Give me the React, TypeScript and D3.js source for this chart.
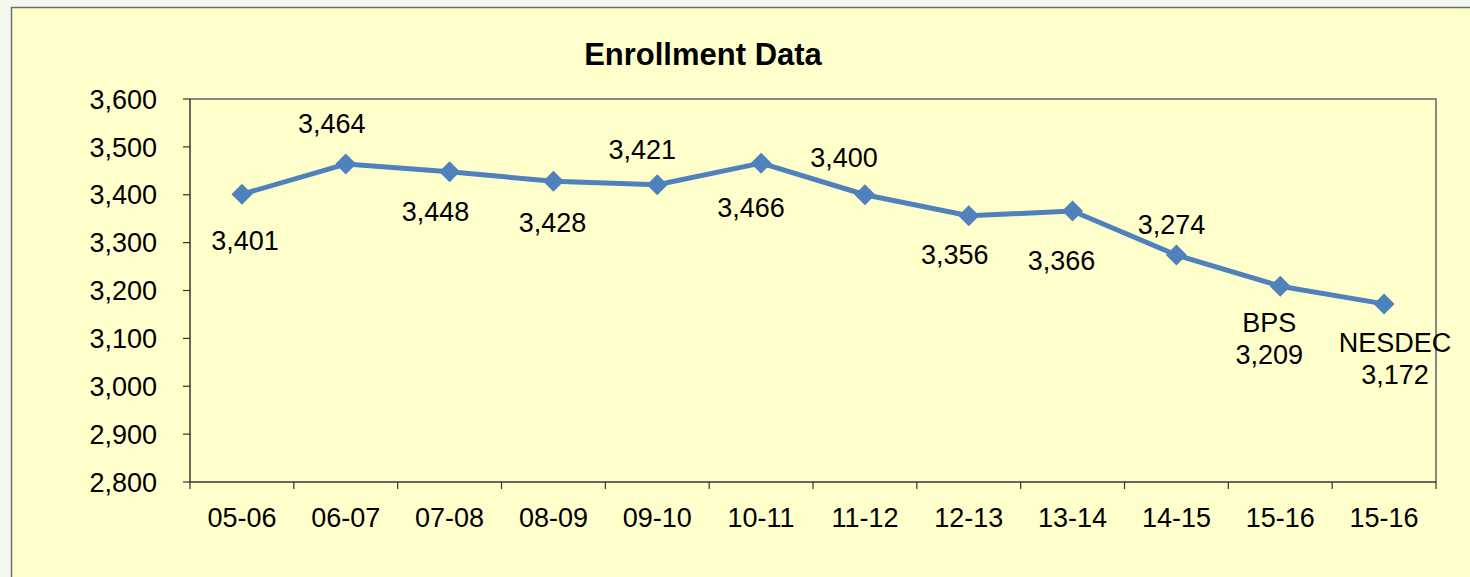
import * as d3 from "d3";

const categories = ["05-06", "06-07", "07-08", "08-09", "09-10", "10-11", "11-12", "12-13", "13-14", "14-15", "15-16", "15-16"];
const enrollment = [3401, 3464, 3448, 3428, 3421, 3466, 3400, 3356, 3366, 3274, 3209, 3172];
const prefixes = ["", "", "", "", "", "", "", "", "", "", "BPS", "NESDEC"];
const yTicks = [2800, 2900, 3000, 3100, 3200, 3300, 3400, 3500, 3600];

// label placement (offset from marker to baseline, px)
const labelDx = [3, -14, -14, -1, -15, -10, -21, -14, -11, -5, -11, 11];
const labelDy = [56, -31, 49, 51, -26, 54, -28, 48, 59, -21, 78, 80];

const W = 1470;
const H = 577;
const m = { left: 190, right: 1436, top: 99, bottom: 482 };
const font = "'Liberation Sans', Arial, sans-serif";

export default function App() {
  const x = d3.scaleBand<number>().domain(d3.range(categories.length)).range([m.left, m.right]);
  const y = d3.scaleLinear().domain([2800, 3600]).range([m.bottom, m.top]);
  const cx = (i: number) => (x(i) ?? 0) + x.bandwidth() / 2;
  const line = d3
    .line<number>()
    .x((_, i) => cx(i))
    .y((d) => y(d));
  const fmt = d3.format(",");

  return (
    <div style={{ position: "fixed", left: 0, top: 0 }}>
      <svg width={W} height={H} style={{ display: "block", fontFamily: font }}>
        <rect x={0} y={0} width={W} height={H} fill="#F2F7F0" />
        <rect x={11.5} y={7.5} width={W + 10} height={H + 10} fill="#FFFFCC" stroke="#6E6E6E" strokeWidth={1.5} />
        <text x={703} y={65} textAnchor="middle" fontSize={31} fontWeight="bold">
          Enrollment Data
        </text>
        {/* plot frame */}
        <polyline
          points={`${m.left},${m.top} ${m.right},${m.top} ${m.right},${m.bottom}`}
          fill="none"
          stroke="#888"
          strokeWidth={2}
        />
        {/* y axis */}
        <line x1={m.left} x2={m.left} y1={m.top} y2={m.bottom} stroke="#333" strokeWidth={1.5} />
        {yTicks.map((t) => (
          <g key={t}>
            <line x1={m.left - 7} x2={m.left} y1={y(t)} y2={y(t)} stroke="#333" strokeWidth={1.2} />
            <text x={157} y={y(t)} dy="0.36em" textAnchor="end" fontSize={27}>
              {fmt(t)}
            </text>
          </g>
        ))}
        {/* x axis */}
        <line x1={m.left} x2={m.right} y1={m.bottom} y2={m.bottom} stroke="#333" strokeWidth={1.5} />
        {d3.range(categories.length + 1).map((i) => {
          const px = m.left + i * x.bandwidth();
          return <line key={i} x1={px} x2={px} y1={m.bottom} y2={m.bottom + 7} stroke="#333" strokeWidth={1.2} />;
        })}
        {categories.map((c, i) => (
          <text key={i} x={cx(i)} y={527} textAnchor="middle" fontSize={27}>
            {c}
          </text>
        ))}
        {/* series */}
        <path d={line(enrollment) ?? ""} fill="none" stroke="#4F81BD" strokeWidth={5} strokeLinejoin="round" />
        {enrollment.map((v, i) => (
          <path
            key={i}
            transform={`translate(${cx(i)},${y(v)})`}
            d="M0,-10.5L10.5,0L0,10.5L-10.5,0Z"
            fill="#4F81BD"
          />
        ))}
        {enrollment.map((v, i) => {
          const lx = cx(i) + labelDx[i];
          const ly = y(v) + labelDy[i];
          return prefixes[i] ? (
            <text key={i} x={lx} textAnchor="middle" fontSize={27}>
              <tspan x={lx} y={ly - 32}>{prefixes[i]}</tspan>
              <tspan x={lx} y={ly}>{fmt(v)}</tspan>
            </text>
          ) : (
            <text key={i} x={lx} y={ly} textAnchor="middle" fontSize={27}>
              {fmt(v)}
            </text>
          );
        })}
      </svg>
    </div>
  );
}
